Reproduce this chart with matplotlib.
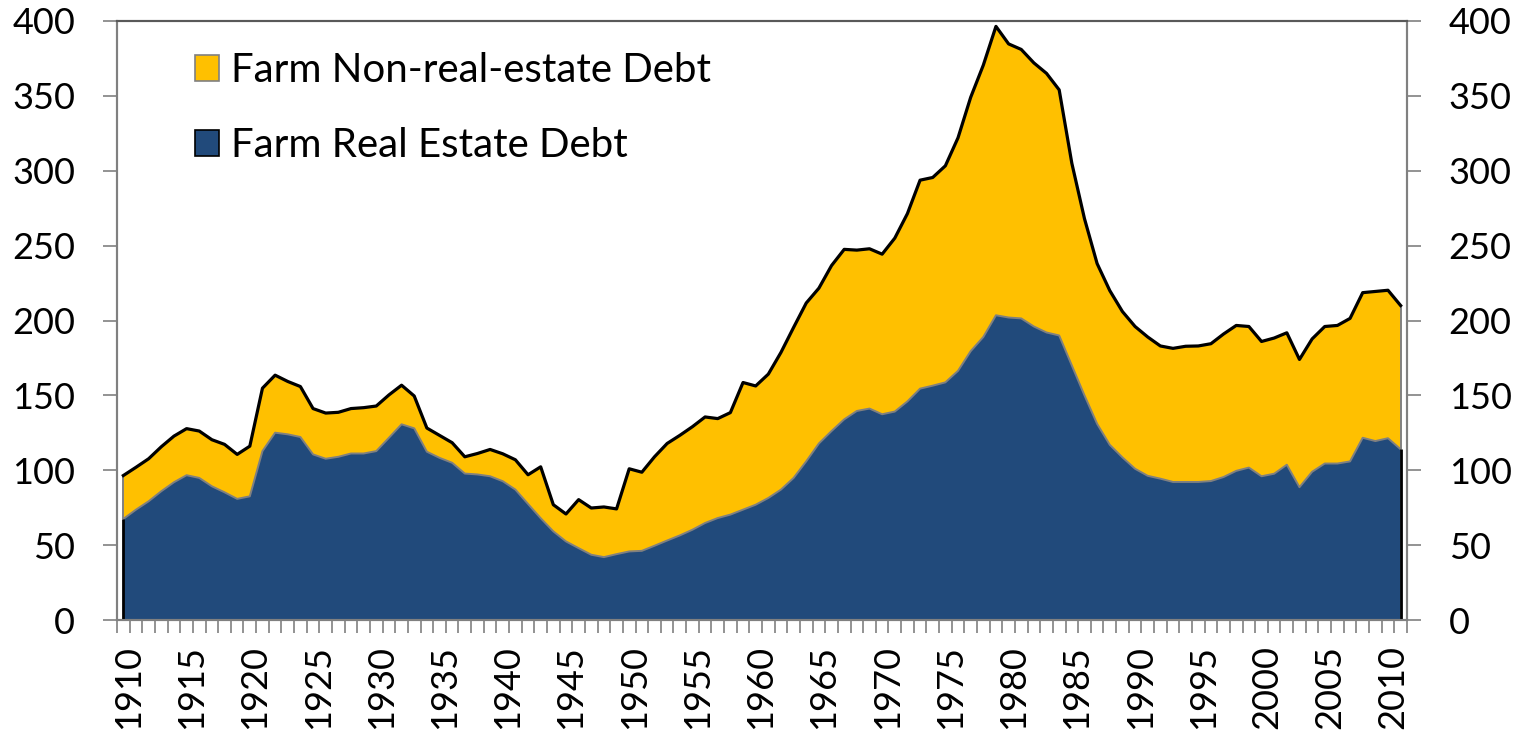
import numpy as np
import matplotlib
matplotlib.use("Agg")
import matplotlib.pyplot as plt
import matplotlib.transforms as mtransforms
from matplotlib.patches import Patch

plt.rcParams['font.family'] = ['Lato', 'DejaVu Sans']

# Data (billion dollars)
years = list(range(1910, 2012))
real_estate = [
    67.5, 73.7, 79.3, 86.0, 92.0, 96.7, 94.9, 89.3, 85.3, 80.9,
    82.6, 112.8, 125.1, 124.0, 122.2, 110.6, 107.7, 109.0, 111.2, 111.2,
    112.8, 121.7, 130.7, 128.0, 112.4, 108.3, 105.0, 97.8, 97.2, 96.0,
    92.7, 87.1, 77.5, 68.0, 59.2, 52.5, 48.0, 43.6, 42.0, 44.0,
    45.8, 46.2, 49.6, 53.1, 56.5, 60.3, 64.8, 68.1, 70.4, 73.7,
    77.0, 81.5, 87.1, 94.9, 106.0, 117.9, 126.2, 134.0, 139.6, 141.2,
    137.4, 139.2, 146.0, 154.5, 156.5, 158.7, 166.4, 179.5, 189.0, 203.5,
    202.0, 201.4, 196.0, 192.0, 190.0, 170.0, 150.0, 131.0, 117.0, 108.6,
    101.0, 96.3, 94.4, 92.2, 92.2, 92.2, 92.8, 95.5, 99.6, 101.8,
    96.0, 97.7, 103.7, 88.7, 99.0, 104.5, 104.5, 105.9, 121.7, 119.5,
    121.4, 114.0,
]
total_debt = [
    96.5, 102.0, 107.7, 115.7, 122.8, 127.8, 126.2, 120.4, 117.3, 110.6,
    116.1, 154.8, 163.5, 159.3, 155.9, 141.2, 138.2, 138.7, 141.2, 141.8,
    142.9, 150.3, 156.8, 149.6, 128.2, 123.3, 118.4, 109.0, 111.2, 113.9,
    111.0, 107.0, 97.0, 102.3, 77.0, 70.8, 80.4, 74.8, 75.5, 74.2,
    101.0, 98.7, 109.0, 117.9, 123.3, 129.1, 135.6, 134.5, 138.5, 158.6,
    156.3, 164.2, 178.7, 195.4, 211.7, 221.6, 236.7, 247.5, 247.0, 247.9,
    244.3, 255.0, 271.4, 293.7, 295.5, 303.3, 322.0, 349.0, 370.5, 396.4,
    384.7, 381.0, 372.0, 365.0, 354.0, 305.0, 268.0, 238.0, 220.0, 206.0,
    196.0, 189.0, 183.0, 181.4, 182.8, 183.0, 184.5, 191.0, 196.7, 196.0,
    186.0, 188.3, 191.8, 174.0, 187.7, 196.0, 196.7, 201.4, 218.6, 219.4,
    220.2, 210.0,
]
labels = ["Farm Non-real-estate Debt", "Farm Real Estate Debt"]

real_estate = np.array(real_estate)
total_debt = np.array(total_debt)
non_real_estate = total_debt - real_estate
x = np.arange(len(years))

blue = "#214A7B"
yellow = "#FFC000"
gray = "#808080"

fig = plt.figure(figsize=(15.14, 7.31), dpi=100)
ax = fig.add_axes([0.0773, 0.1518, 0.8520, 0.8195])

ax.stackplot(x, real_estate, non_real_estate, colors=[blue, yellow], linewidth=0)
ax.plot(x, real_estate, color=gray, lw=1.4, zorder=3)
ax.plot(x, total_debt, color="black", lw=2.3, zorder=4)
# side edges of the areas
for i in (0, len(x) - 1):
    ax.vlines(x[i], 0, real_estate[i], color="black", lw=2.0, zorder=4)
    ax.vlines(x[i], real_estate[i], total_debt[i], color=gray, lw=1.4, zorder=3)

ax.set_xlim(-0.5, len(x) - 0.5)
ax.set_ylim(0, 400)

# x axis: tick mark at each category boundary, label every 5 years
ax.set_xticks(np.arange(-0.5, len(x), 1), minor=True)
major = [i for i, y in enumerate(years) if y % 5 == 0]
ax.set_xticks(major)
ax.set_xticklabels([str(years[i]) for i in major], rotation=90, fontsize=26)
ax.tick_params(axis="x", which="major", length=0, pad=18)
ax.tick_params(axis="x", which="minor", length=9.5, width=1.2, color=gray, direction="out")
shift = mtransforms.ScaledTranslation(5 / 100, 0, fig.dpi_scale_trans)
for lab in ax.get_xticklabels():
    lab.set_transform(lab.get_transform() + shift)

yt = np.arange(0, 401, 50)
ax.set_yticks(yt)
ax.set_yticklabels([str(v) for v in yt], fontsize=26)
ax.tick_params(axis="y", length=10, width=1.2, color=gray, direction="out", pad=20)

ax2 = ax.twinx()
ax2.set_ylim(0, 400)
ax2.set_yticks(yt)
ax2.set_yticklabels([str(v) for v in yt], fontsize=26)
ax2.tick_params(axis="y", length=10, width=1.2, color=gray, direction="out", pad=20)

for a in (ax, ax2):
    for s in ("left", "right", "bottom"):
        a.spines[s].set_color(gray)
        a.spines[s].set_linewidth(1.5)
    a.spines["top"].set_color("#595959")
    a.spines["top"].set_linewidth(1.5)

handles = [Patch(facecolor=yellow, edgecolor=gray, lw=1.2),
           Patch(facecolor=blue, edgecolor="black", lw=1.2)]
ax.legend(handles, labels, loc="upper left", bbox_to_anchor=(0.048, 0.975),
          frameon=False, fontsize=29, handlelength=0.6, handleheight=0.6,
          handletextpad=0.3, labelspacing=0.95, borderaxespad=0)

fig.savefig("out.png", dpi=100)
